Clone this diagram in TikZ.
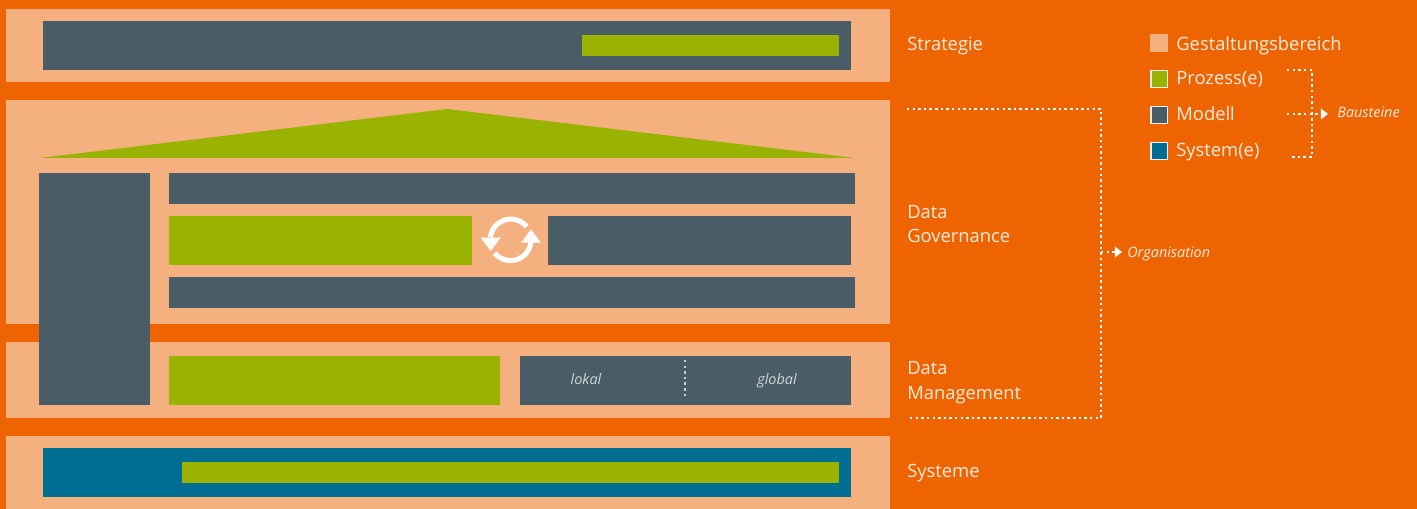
\documentclass[tikz,border=0pt]{standalone}
\usepackage{fontspec}
\setmainfont{Open Sans}
\usetikzlibrary{arrows.meta}
\definecolor{bgorange}{HTML}{EE6400}
\definecolor{arealight}{HTML}{F5B07F}
\definecolor{modeldark}{HTML}{4A5D66}
\definecolor{processgreen}{HTML}{9AB300}
\definecolor{systemblue}{HTML}{006E93}
\tikzset{
	area/.style={fill=arealight},
	model/.style={fill=modeldark},
	process/.style={fill=processgreen},
	system/.style={fill=systemblue},
	legendbox/.style={draw=white!90!modeldark,line width=0.9pt},
	title/.style={anchor=base west,inner sep=0pt,text=white!88!bgorange,font=\fontsize{10.45}{13.9}\selectfont,align=left},
	note/.style={anchor=base west,inner sep=0pt,text=white!88!bgorange,font=\fontsize{8.2}{10}\selectfont\itshape},
	dots/.style={draw=white,line width=0.6pt,dash pattern=on 1.4pt off 1.8pt},
	dotsarrow/.style={dots,-{Triangle[width=6pt,length=4pt,fill=white,sep=0pt]}},
}
\begin{document}
\begin{tikzpicture}[x=0.02cm,y=-0.02cm]
	\useasboundingbox (0,0) rectangle (1417,509);
	\fill[bgorange] (0,0) rectangle (1417,509);
	% Strategie
	\fill[area] (6,9) rectangle (890,82);
	\fill[model] (43,21) rectangle (851,70);
	\fill[process] (582,35) rectangle (839,56);
	% Data Governance
	\fill[area] (6,100) rectangle (890,324);
	\fill[process] (40,158) -- (447,109) -- (855,158) -- cycle;
	\fill[model] (169,173) rectangle (855,204);
	\fill[process] (169,216) rectangle (472,265);
	\fill[model] (548,216) rectangle (851,265);
	\fill[model] (169,277) rectangle (855,308);
	% Data Management
	\fill[area] (6,342) rectangle (890,418);
	\fill[model] (39,173) rectangle (150,405);
	\fill[process] (169,356) rectangle (500,405);
	\fill[model] (520,356) rectangle (851,405);
	\draw[dots,draw=white!70!modeldark] (685,360) -- (685,396);
	\node[note,anchor=base,text=white!75!modeldark] (lokal) at (586,385) {lokal};
	\node[note,anchor=base,text=white!75!modeldark] (global) at (777,385) {global};
	% Systeme
	\fill[area] (6,436) rectangle (890,509);
	\fill[system] (43,448) rectangle (851,497);
	\fill[process] (182,462) rectangle (839,483);
	% Kreislauf
	\draw[white,line width=2.9pt] (526.7,226.7) arc (-39:-174:20.5);
	\draw[white,line width=2.9pt] (494.6,253) arc (141:6:20.5);
	\fill[white] (480.7,237.7) -- (500.7,237.7) -- (490.7,251) -- cycle;
	\fill[white] (521,242.7) -- (541,242.7) -- (531,229.3) -- cycle;
	% Bereiche
	\node[title] (strategie) at (907,51) {Strategie};
	\node[title,anchor=west] (governance) at (907,224) {Data\\Governance};
	\node[title,anchor=west] (management) at (907,382.5) {Data\\Management};
	\node[title] (systeme) at (907,478) {Systeme};
	% Legende
	\fill[area] (1150,34) rectangle (1168,52);
	\draw[process,legendbox] (1150.7,70.7) rectangle (1167.3,87.3);
	\draw[model,legendbox] (1150.7,106.7) rectangle (1167.3,123.3);
	\draw[system,legendbox] (1150.7,142.7) rectangle (1167.3,159.3);
	\node[title] (gestaltung) at (1176,50.5) {Gestaltungsbereich};
	\node[title] (prozess) at (1176,85) {Prozess(e)};
	\node[title] (modell) at (1176,121) {Modell};
	\node[title] (system) at (1176,157) {System(e)};
	% Organisation
	\node[note] (organisation) at (1127,257.5) {Organisation};
	\coordinate (orgtop) at (907,109);
	\coordinate (orgtopright) at (1101,109);
	\coordinate (orgbottomright) at (1101,418);
	\coordinate (orgbottom) at (907,418);
	\coordinate (orgmid) at (1101,252);
	\coordinate (orgtip) at (1122,252);
	\draw[dots] (orgtop) -- (orgtopright) -- (orgbottomright) -- (orgbottom);
	\draw[dotsarrow] (orgmid) -- (orgtip);
	% Bausteine
	\node[note] (bausteine) at (1337,117.5) {Bausteine};
	\coordinate (baustop) at (1287,70);
	\coordinate (baustopright) at (1312,70);
	\coordinate (bausbottomright) at (1312,157);
	\coordinate (bausbottom) at (1290,157);
	\coordinate (bausmid) at (1287,114);
	\coordinate (baustip) at (1328,114);
	\draw[dots] (baustop) -- (baustopright) -- (bausbottomright) -- (bausbottom);
	\draw[dotsarrow] (bausmid) -- (baustip);
\end{tikzpicture}
\end{document}
